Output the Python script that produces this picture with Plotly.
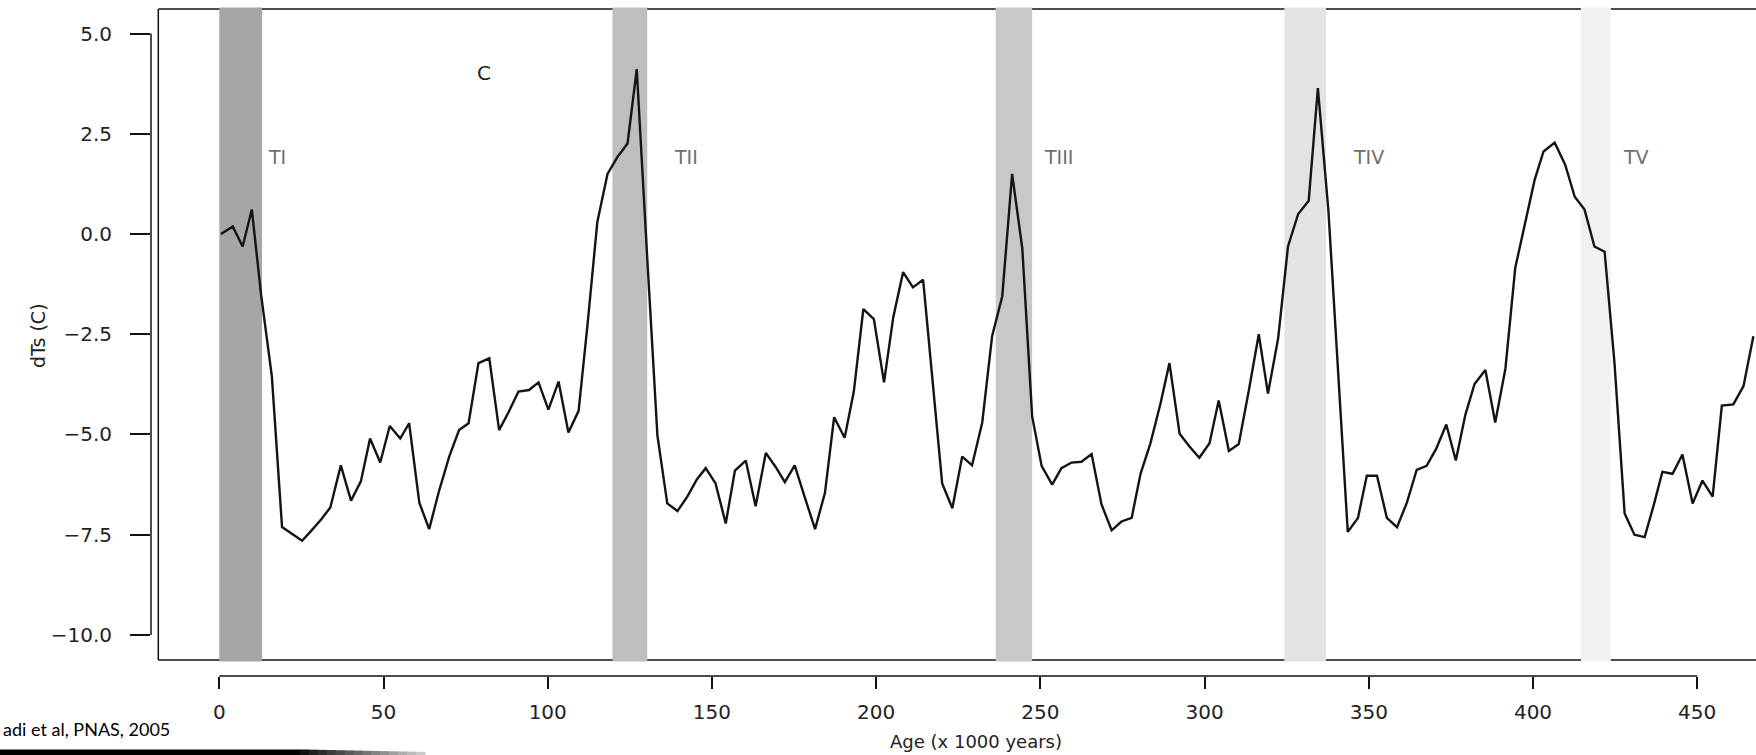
import plotly.graph_objects as go

# ---------------- data ----------------
age = [0.5, 4.1, 7.1, 9.9, 12.7, 16.0, 19.1, 25.2, 27.9, 31.0, 33.8, 37.0, 40.1, 43.1,
       45.9, 49.0, 51.9, 55.1, 57.8, 60.9, 63.9, 66.9, 70.0, 73.0, 75.9, 78.9, 82.2,
       85.2, 88.1, 91.1, 94.3, 97.2, 100.2, 103.3, 106.3, 109.4, 112.1, 115.1, 118.2,
       121.2, 124.3, 127.1, 130.3, 133.4, 136.4, 139.5, 142.5, 145.4, 148.1, 151.1,
       154.2, 157.0, 160.3, 163.3, 166.4, 169.4, 172.2, 175.2, 178.2, 181.4, 184.4,
       187.2, 190.4, 193.2, 196.1, 199.3, 202.4, 205.2, 208.2, 211.2, 214.3, 217.4,
       220.1, 223.2, 226.2, 229.2, 232.3, 235.3, 238.4, 241.4, 244.5, 247.5, 250.4,
       253.6, 256.4, 259.5, 262.5, 265.6, 268.6, 271.7, 274.7, 277.8, 280.5, 283.5,
       286.6, 289.3, 292.4, 295.4, 298.4, 301.5, 304.3, 307.4, 310.4, 313.5, 316.5,
       319.3, 322.4, 325.4, 328.5, 331.7, 334.5, 337.7, 340.8, 343.6, 346.7, 349.4,
       352.5, 355.5, 358.6, 361.6, 364.6, 367.6, 370.5, 373.6, 376.5, 379.4, 382.2,
       385.5, 388.5, 391.6, 394.6, 397.7, 400.5, 403.2, 406.6, 409.8, 412.7, 415.7,
       418.7, 421.8, 424.8, 427.9, 430.9, 434.0, 436.7, 439.4, 442.5, 445.5, 448.6,
       451.6, 454.7, 457.5, 461.0, 464.1, 467.1]
dts = [0.00, 0.19, -0.31, 0.61, -1.50, -3.55, -7.31, -7.65, -7.41, -7.12, -6.82, -5.77,
       -6.65, -6.17, -5.10, -5.70, -4.79, -5.10, -4.72, -6.70, -7.36, -6.41, -5.55,
       -4.89, -4.72, -3.22, -3.10, -4.89, -4.44, -3.93, -3.89, -3.70, -4.38, -3.68,
       -4.95, -4.41, -2.27, 0.30, 1.50, 1.92, 2.26, 4.11, -0.60, -5.03, -6.72, -6.91,
       -6.55, -6.12, -5.84, -6.22, -7.22, -5.90, -5.65, -6.79, -5.46, -5.81, -6.19,
       -5.77, -6.55, -7.36, -6.46, -4.57, -5.08, -3.93, -1.87, -2.12, -3.70, -2.08,
       -0.95, -1.33, -1.14, -3.80, -6.22, -6.84, -5.55, -5.77, -4.70, -2.55, -1.55,
       1.50, -0.36, -4.55, -5.79, -6.25, -5.84, -5.70, -5.68, -5.49, -6.74, -7.39,
       -7.17, -7.08, -5.98, -5.22, -4.22, -3.22, -4.98, -5.30, -5.58, -5.22, -4.15,
       -5.41, -5.24, -3.89, -2.50, -3.98, -2.60, -0.31, 0.50, 0.83, 3.64, 0.59, -3.55,
       -7.43, -7.08, -6.03, -6.03, -7.08, -7.31, -6.70, -5.88, -5.78, -5.36, -4.75,
       -5.65, -4.51, -3.74, -3.39, -4.70, -3.36, -0.84, 0.30, 1.35, 2.06, 2.28, 1.73,
       0.93, 0.61, -0.31, -0.44, -3.20, -6.97, -7.50, -7.56, -6.78, -5.93, -5.98,
       -5.50, -6.72, -6.15, -6.55, -4.28, -4.25, -3.79, -2.55]

band_start = [0.0, 119.7, 236.4, 324.3, 414.6]
band_end = [13.0, 130.3, 247.5, 337.0, 423.7]
band_color = ["#a6a6a6", "#bebebe", "#c8c8c8", "#e3e3e3", "#f1f1f1"]
band_label = ["TI", "TII", "TIII", "TIV", "TV"]
band_label_age = [14.3, 137.9, 250.5, 344.5, 426.8]
band_label_value = 1.93

panel_label = "C"
panel_label_age = 80.6
panel_label_value = 4.02

x_ticks = [0, 50, 100, 150, 200, 250, 300, 350, 400, 450]
y_ticks = [-10.0, -7.5, -5.0, -2.5, 0.0, 2.5, 5.0]

x_title = "Age (x 1000 years)"
y_title = "dTs (C)"
caption = "adi et al, PNAS, 2005"

# ---------------- layout geometry (pixels) ----------------
W, H = 1756, 755
ML, MR, MT, MB = 151, 0, 6, 79
PW = W - ML - MR
PH = H - MT - MB


def px(x):
    return (x - ML) / PW


def py(y):
    return (H - MB - y) / PH


BOX_L, BOX_T, BOX_B = 158.3, 9.0, 660.0
X_RANGE = [-20.80, 467.9]
Y_RANGE = [-11.024, 5.688]

fig = go.Figure()

fig.add_trace(go.Scatter(
    x=age, y=dts, mode="lines",
    line=dict(color="#141414", width=2.4),
    hoverinfo="skip", showlegend=False,
))

shapes = []
border = dict(color="#111111", width=1.5)
# plot box (its right side lies beyond the picture)
shapes.append(dict(type="line", xref="paper", yref="paper", x0=px(BOX_L), x1=1.05,
                   y0=py(BOX_T), y1=py(BOX_T), line=border, layer="below"))
shapes.append(dict(type="line", xref="paper", yref="paper", x0=px(BOX_L), x1=1.05,
                   y0=py(BOX_B), y1=py(BOX_B), line=border, layer="below"))
shapes.append(dict(type="line", xref="paper", yref="paper", x0=px(BOX_L), x1=px(BOX_L),
                   y0=py(BOX_B), y1=py(BOX_T), line=border, layer="below"))
# termination bands
for s, e, c in zip(band_start, band_end, band_color):
    shapes.append(dict(type="rect", xref="x", yref="paper", x0=s, x1=e,
                       y0=py(BOX_B + 1.5), y1=py(BOX_T - 1.5),
                       fillcolor=c, line=dict(width=0), layer="below"))
# detached R-style axis lines
shapes.append(dict(type="line", xref="x", yref="paper", x0=x_ticks[0], x1=x_ticks[-1],
                   y0=0, y1=0, line=dict(color="#111111", width=1.5)))
shapes.append(dict(type="line", xref="paper", yref="y", x0=0, x1=0,
                   y0=y_ticks[0], y1=y_ticks[-1], line=dict(color="#111111", width=1.5)))

# slide underline bar (black fading to grey)
bar_y0, bar_y1 = py(756), py(749.5)
shapes.append(dict(type="rect", xref="paper", yref="paper", x0=px(-1), x1=px(300),
                   y0=bar_y0, y1=bar_y1, fillcolor="#000000", line=dict(width=0)))
nseg = 14
for i in range(nseg):
    a = 300 + i * (425 - 300) / nseg
    b = 300 + (i + 1) * (425 - 300) / nseg
    g = int(10 + (210 - 10) * (i + 0.5) / nseg)
    shapes.append(dict(type="rect", xref="paper", yref="paper", x0=px(a), x1=px(b + 0.5),
                       y0=bar_y0, y1=py(749.5 + 2.5 * i / nseg),
                       fillcolor=f"rgb({g},{g},{g})", line=dict(width=0)))

annotations = []
lab_font = dict(family="DejaVu Sans", size=19, color="#6e6e6e")
for lab, a in zip(band_label, band_label_age):
    annotations.append(dict(x=a, y=band_label_value, xref="x", yref="y", text=lab,
                            showarrow=False, xanchor="left", yanchor="middle", font=lab_font))
annotations.append(dict(x=panel_label_age, y=panel_label_value, xref="x", yref="y",
                        text=panel_label, showarrow=False, xanchor="center", yanchor="middle",
                        font=dict(family="DejaVu Sans", size=20, color="#222222")))
annotations.append(dict(x=px(976), y=py(741), xref="paper", yref="paper", text=x_title,
                        showarrow=False, xanchor="center", yanchor="middle",
                        font=dict(family="DejaVu Sans", size=18, color="#222222")))
annotations.append(dict(x=px(38), y=py(336), xref="paper", yref="paper", text=y_title,
                        showarrow=False, xanchor="center", yanchor="middle", textangle=-90,
                        font=dict(family="DejaVu Sans", size=19, color="#222222")))
annotations.append(dict(x=px(1), y=py(729), xref="paper", yref="paper", text=caption,
                        showarrow=False, xanchor="left", yanchor="middle",
                        font=dict(family="Lato", size=18, color="#000000")))

tick_font = dict(family="DejaVu Sans", size=20, color="#222222")
fig.update_layout(
    width=W, height=H,
    margin=dict(l=ML, r=MR, t=MT, b=MB, pad=0),
    paper_bgcolor="white", plot_bgcolor="white",
    showlegend=False,
    shapes=shapes, annotations=annotations,
    xaxis=dict(range=X_RANGE, showgrid=False, zeroline=False, showline=False,
               ticks="outside", ticklen=12, tickwidth=1.5, tickcolor="#111111",
               tickvals=x_ticks, ticktext=[str(v) for v in x_ticks],
               tickfont=tick_font, ticklabelstandoff=6, fixedrange=True),
    yaxis=dict(range=Y_RANGE, showgrid=False, zeroline=False, showline=False,
               ticks="outside", ticklen=20, tickwidth=1.5, tickcolor="#111111",
               tickvals=y_ticks, tickformat=".1f",
               tickfont=tick_font, ticklabelstandoff=14, fixedrange=True),
)

fig.write_html(
    "out.html",
    config={"displayModeBar": False},
    post_script="document.documentElement.style.margin='0';"
                "document.body.style.margin='0';"
                "document.body.style.overflow='hidden';",
)
